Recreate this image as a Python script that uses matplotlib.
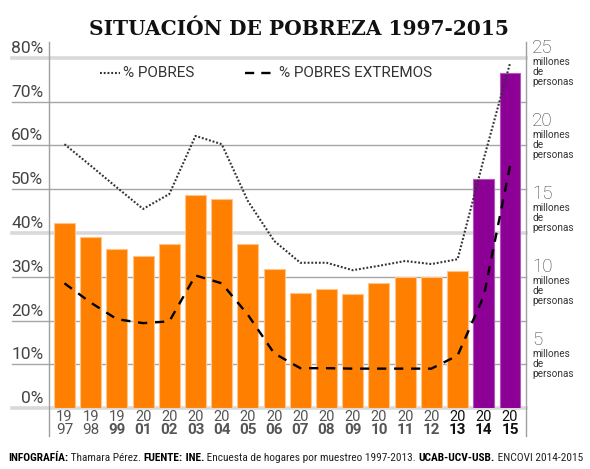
import numpy as np
import matplotlib
matplotlib.use('Agg')
import matplotlib.pyplot as plt
from matplotlib import font_manager as fm
from matplotlib.lines import Line2D

# ---------------- data ----------------
years = ['1997', '1998', '1999', '2001', '2002', '2003', '2004', '2005', '2006',
         '2007', '2008', '2009', '2010', '2011', '2012', '2013', '2014', '2015']
millones = [12.7, 11.7, 10.9, 10.4, 11.25, 14.6, 14.3, 11.25, 9.5,
            7.9, 8.15, 7.8, 8.55, 9.0, 9.0, 9.4, 15.7, 23.0]
pobres = [60.3, 55.4, 50.4, 45.5, 48.9, 62.2, 60.3, 47.3, 38.2,
          33.2, 33.2, 31.5, 32.5, 33.6, 32.9, 34.0, 57.0, 78.8]
extremos = [28.5, 24.1, 20.3, 19.4, 19.8, 30.3, 28.5, 21.3, 12.5,
            9.1, 9.1, 9.0, 9.0, 9.0, 9.0, 12.0, 25.6, 55.3]
left_ticks = [0, 10, 20, 30, 40, 50, 60, 70, 80]
right_ticks = [5, 10, 15, 20, 25]
title = 'SITUACIÓN DE POBREZA 1997-2015'
legend_labels = ['% POBRES', '% POBRES EXTREMOS']

ORANGE = '#FF8000'
PURPLE = '#8C0096'

avail = {f.name for f in fm.fontManager.ttflist}
def pick(names):
    for n in names:
        if n in avail:
            return n
    return 'DejaVu Sans'

SANS = pick(['Roboto', 'Liberation Sans', 'DejaVu Sans'])
NARROW = pick(['Liberation Sans Narrow', 'Roboto Condensed', 'DejaVu Sans Condensed', 'Liberation Sans'])
SERIF = pick(['DejaVu Serif Condensed', 'DejaVu Serif'])

W, H = 590, 469
fig = plt.figure(figsize=(W / 100, H / 100), dpi=100)
fig.patch.set_facecolor('white')
renderer = fig.canvas.get_renderer()

def fx(px):
    return px / W

def fy(py):
    return 1 - py / H

rect = [49 / W, 1 - 408 / H, 477 / W, 350 / H]
x = np.arange(len(years))
xlim = (-0.59, len(years) - 1 + 0.61)
ext = -37 / 477  # gridlines extend left of the plot

# grid axes (percent)
axG = fig.add_axes(rect, zorder=0)
axG.set_xlim(*xlim)
axG.set_ylim(0, 80)
for v in left_ticks:
    if v % 40 != 0:
        axG.axhline(v, xmin=ext, xmax=1, color='#a6a6a6', lw=1.0, clip_on=False)
axG.axis('off')

# bars axes (millions)
axB = fig.add_axes(rect, zorder=1)
axB.patch.set_alpha(0)
axB.set_xlim(*xlim)
axB.set_ylim(0, 24)
for v in (0, 12, 24):
    axB.axhline(v, xmin=ext, xmax=1, color='#d9d9d9', lw=2.6, clip_on=False, zorder=0)
colors = [ORANGE] * 16 + [PURPLE] * 2
edges = ['#FFC48A'] * 16 + ['#B555C0'] * 2
axB.bar(x, millones, width=0.8, color=colors, edgecolor=edges, linewidth=0.8, zorder=2)
axB.axis('off')

# lines axes (percent)
axL = fig.add_axes(rect, zorder=2)
axL.patch.set_alpha(0)
axL.set_xlim(*xlim)
axL.set_ylim(0, 80)
axL.plot(x, pobres, color='#333333', lw=1.5, linestyle=(0, (0.9, 0.9)),
         solid_capstyle='butt', clip_on=False)
axL.plot(x, extremos, color='#000000', lw=1.7, linestyle=(0, (3.9, 3.3)), clip_on=False)
axL.axis('off')

# spines
for px in (49, 526):
    fig.add_artist(Line2D([fx(px), fx(px)], [fy(42), fy(436)], color='#a0a0a0',
                          lw=1.0, transform=fig.transFigure))

# left tick labels (above gridlines)
for v in left_ticks:
    axL.annotate(f'{v}%', xy=(0, v), xycoords=('axes fraction', 'data'),
                 xytext=(-4.1, 3.6), textcoords='offset points', ha='right',
                 va='baseline', fontsize=12.5, color='#444444', family=SANS,
                 annotation_clip=False)

# right labels (millions)
for v in right_ticks:
    axB.annotate(f'{v}', xy=(1, v), xycoords=('axes fraction', 'data'),
                 xytext=(4.3, -7.2), textcoords='offset points', ha='left',
                 va='baseline', fontsize=13.5, color='#444444', family=SANS,
                 fontweight='light', annotation_clip=False)
    for k, word in enumerate(['millones', 'de', 'personas']):
        axB.annotate(word, xy=(1, v), xycoords=('axes fraction', 'data'),
                     xytext=(4.5, -(21.5 + 10.2 * k) / 1.389), textcoords='offset points',
                     ha='left', va='baseline', fontsize=7.2, color='#333333',
                     family=SANS, annotation_clip=False)

# x labels (two lines)
for i, y in enumerate(years):
    top, bot = y[:2], y[2:]
    dark = i >= 15
    bold = i >= 2
    ctop = '#111111' if dark else '#555555'
    cbot = '#111111' if dark else '#555555'
    axL.annotate(top, xy=(i, 0), xycoords=('data', 'axes fraction'),
                 xytext=(0, -8.7 / 1.389), textcoords='offset points', ha='center',
                 va='center', fontsize=10.5, color=ctop, family=SANS,
                 fontweight='normal', annotation_clip=False)
    axL.annotate(bot, xy=(i, 0), xycoords=('data', 'axes fraction'),
                 xytext=(0, -22.5 / 1.389), textcoords='offset points', ha='center',
                 va='center', fontsize=11, color=cbot, family=SANS,
                 fontweight='bold' if bold else 'normal', annotation_clip=False)

# legend (manual)
fig.add_artist(Line2D([fx(100), fx(120)], [fy(73), fy(73)], color='#333333', lw=1.5,
                      linestyle=(0, (0.9, 0.9)), transform=fig.transFigure))
fig.text(fx(123), fy(77), legend_labels[0], fontsize=11, color='#333333',
         family=SANS, va='baseline', ha='left')
fig.add_artist(Line2D([fx(245), fx(273)], [fy(73), fy(73)], color='#000000', lw=1.7,
                      linestyle=(0, (3.9, 3.0)), transform=fig.transFigure))
fig.text(fx(279), fy(77), legend_labels[1], fontsize=11, color='#333333',
         family=SANS, va='baseline', ha='left')

# title, fitted to width
t = fig.text(fx(299), fy(35), title, fontsize=20, fontweight='heavy', family=SERIF,
             color='#111111', ha='center', va='baseline')
wdt = t.get_window_extent(renderer).width
t.set_fontsize(min(21, 20 * 418 / wdt))

# footer
pieces = [("INFOGRAFÍA:", 'bold', '#000000'),
          (" Thamara Pérez. ", 'normal', '#222222'),
          ("FUENTE:", 'bold', '#000000'),
          (" INE.", 'bold', '#000000'),
          (" Encuesta de hogares por muestreo 1997-2013. ", 'normal', '#222222'),
          ("UCAB-UCV-USB.", 'bold', '#000000'),
          (" ENCOVI 2014-2015", 'normal', '#222222')]

def layout(size):
    xp = 8
    arts = []
    for s, w, c in pieces:
        tt = fig.text(fx(xp), fy(460.7), s, fontsize=size, fontweight=w, color=c,
                      family=NARROW, va='baseline', ha='left')
        xp += tt.get_window_extent(renderer).width
        arts.append(tt)
    return arts, xp

arts, xend = layout(8)
for a in arts:
    a.remove()
size = 8 * 575 / (xend - 8)
layout(min(size, 8.5))

fig.savefig('out.png', dpi=100, facecolor='white')
